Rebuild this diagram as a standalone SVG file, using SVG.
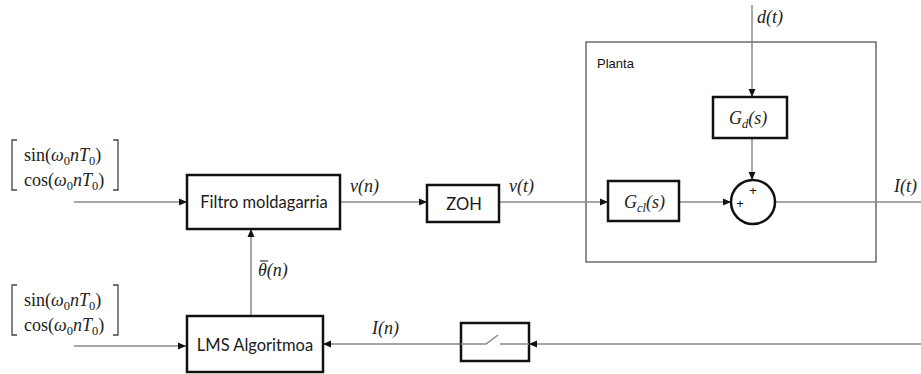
<svg xmlns="http://www.w3.org/2000/svg" width="921" height="374" viewBox="0 0 921 374">
  <style>
    .blk { fill: #fff; stroke: #111; stroke-width: 2.5; }
    .plant { fill: none; stroke: #555; stroke-width: 1.3; }
    .wire { fill: none; stroke: #8a8a8a; stroke-width: 1.5; }
    .brk { fill: none; stroke: #444; stroke-width: 1.3; }
    .lbl { font-family: Lato, "Open Sans", "Liberation Sans", sans-serif; font-size: 16.5px; fill: #1a1a1a; text-anchor: middle; }
    .sans { font-family: "Liberation Sans", Arial, sans-serif; font-size: 13px; fill: #111; }
    .math { font-family: "Liberation Serif", "DejaVu Serif", serif; font-size: 18px; fill: #222; }
    .it { font-style: italic; }
    .sub { font-size: 12.5px; }
  </style>
  <defs>
    <marker id="arr" viewBox="0 0 8 8" refX="8" refY="4" markerWidth="8" markerHeight="8" markerUnits="userSpaceOnUse" orient="auto">
      <path d="M0,0.5 L8,4 L0,7.5 Z" fill="#111"/>
    </marker>
  </defs>
  <rect width="921" height="374" fill="#fff"/>

  <!-- plant enclosure -->
  <g id="planta">
    <rect class="plant" x="586" y="42" width="290" height="220"/>
    <text class="sans" x="597" y="68">Planta</text>
  </g>

  <!-- connectors -->
  <g id="connectors">
    <line class="wire" x1="74" y1="202" x2="187" y2="202" marker-end="url(#arr)"/>
    <line class="wire" x1="74" y1="346" x2="186" y2="346" marker-end="url(#arr)"/>
    <line class="wire" x1="340" y1="202" x2="427" y2="202" marker-end="url(#arr)"/>
    <line class="wire" x1="499" y1="202" x2="608" y2="202" marker-end="url(#arr)"/>
    <line class="wire" x1="679" y1="202" x2="731" y2="202" marker-end="url(#arr)"/>
    <line class="wire" x1="775" y1="202" x2="921" y2="202"/>
    <line class="wire" x1="752" y1="5" x2="752" y2="97" marker-end="url(#arr)"/>
    <line class="wire" x1="752" y1="138" x2="752" y2="180" marker-end="url(#arr)"/>
    <line class="wire" x1="251" y1="316" x2="251" y2="229" marker-end="url(#arr)"/>
    <line class="wire" x1="921" y1="344" x2="529" y2="344" marker-end="url(#arr)"/>
    <line class="wire" x1="461" y1="344" x2="323" y2="344" marker-end="url(#arr)"/>
  </g>

  <!-- input vectors -->
  <g id="input-top">
    <path class="brk" d="M17,140 H12 V190 H17"/>
    <path class="brk" d="M113,140 H118 V190 H113"/>
    <text class="math" x="24" y="161">sin(<tspan class="it">ω</tspan><tspan class="sub" dy="4">0</tspan><tspan class="it" dy="-4">nT</tspan><tspan class="sub" dy="4">0</tspan><tspan dy="-4">)</tspan></text>
    <text class="math" x="24" y="186">cos(<tspan class="it">ω</tspan><tspan class="sub" dy="4">0</tspan><tspan class="it" dy="-4">nT</tspan><tspan class="sub" dy="4">0</tspan><tspan dy="-4">)</tspan></text>
  </g>
  <g id="input-bottom">
    <path class="brk" d="M17,285 H12 V335 H17"/>
    <path class="brk" d="M113,285 H118 V335 H113"/>
    <text class="math" x="24" y="306">sin(<tspan class="it">ω</tspan><tspan class="sub" dy="4">0</tspan><tspan class="it" dy="-4">nT</tspan><tspan class="sub" dy="4">0</tspan><tspan dy="-4">)</tspan></text>
    <text class="math" x="24" y="331">cos(<tspan class="it">ω</tspan><tspan class="sub" dy="4">0</tspan><tspan class="it" dy="-4">nT</tspan><tspan class="sub" dy="4">0</tspan><tspan dy="-4">)</tspan></text>
  </g>

  <g id="filtro">
    <rect class="blk" x="187" y="175" width="153" height="54"/>
    <text class="lbl" x="264" y="208">Filtro moldagarria</text>
  </g>
  <g id="zoh">
    <rect class="blk" x="427" y="185" width="72" height="37"/>
    <text class="lbl" x="464" y="210">ZOH</text>
  </g>
  <g id="lms">
    <rect class="blk" x="187" y="316" width="136" height="56"/>
    <text class="lbl" x="255" y="351">LMS Algoritmoa</text>
  </g>
  <g id="muestreo">
    <rect class="blk" x="461" y="323" width="68" height="38"/>
    <path d="M461,344 H486 L498,335 M500,344 H529" fill="none" stroke="#8a8a8a" stroke-width="1.5"/>
  </g>
  <g id="gcl">
    <rect class="blk" x="608" y="181" width="71" height="40"/>
    <text class="math it" x="624" y="208">G<tspan class="sub" dy="4">cl</tspan><tspan dy="-4">(s)</tspan></text>
  </g>
  <g id="gd">
    <rect class="blk" x="713" y="97" width="74" height="41"/>
    <text class="math it" x="729" y="124">G<tspan class="sub" dy="4">d</tspan><tspan dy="-4">(s)</tspan></text>
  </g>
  <g id="suma">
    <circle cx="753" cy="202" r="22" fill="#fff" stroke="#111" stroke-width="2.5"/>
    <text class="sans" x="753" y="195" text-anchor="middle" font-size="14">+</text>
    <text class="sans" x="740" y="208" text-anchor="middle" font-size="14">+</text>
  </g>

  <!-- signal labels -->
  <g id="labels">
    <text class="math it" x="350" y="192">v(n)</text>
    <text class="math it" x="509" y="192">v(t)</text>
    <text class="math it" x="757" y="23">d(t)</text>
    <text class="math it" x="894" y="192">I(t)</text>
    <text class="math it" x="372" y="334">I(n)</text>
    <text class="math it" x="258" y="276">θ(n)</text>
    <line x1="260" y1="261" x2="268" y2="261" stroke="#222" stroke-width="1.1"/>
  </g>
</svg>
